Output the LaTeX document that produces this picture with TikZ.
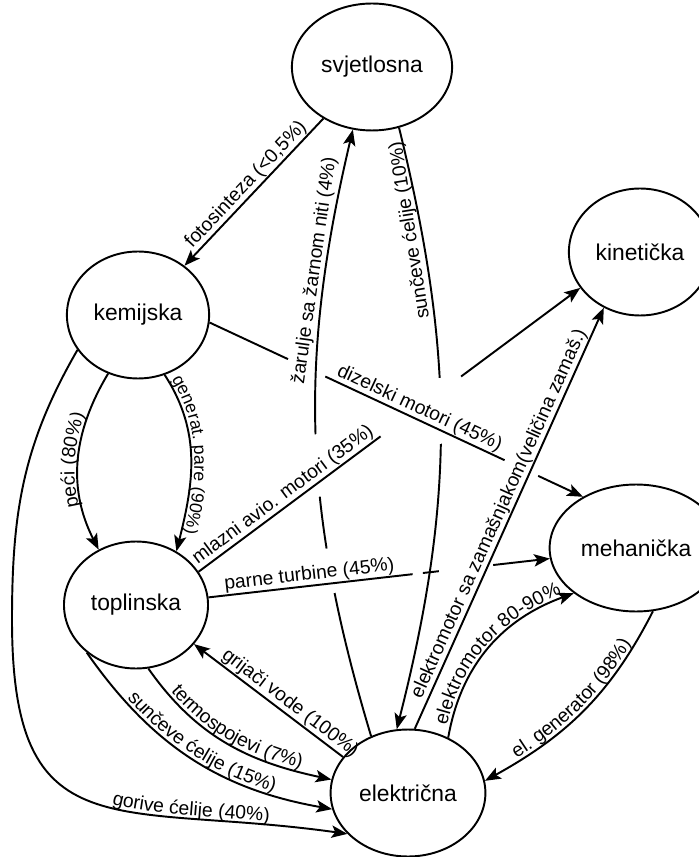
\documentclass[tikz,border=0pt]{standalone}
\usepackage{fontspec}
\setmainfont{Liberation Sans}
\usetikzlibrary{arrows.meta,shapes.geometric,decorations.text}
\newcommand{\etxt}{\fontsize{11}{13}\selectfont}
\newcommand{\vtxt}{\fontsize{13}{15}\selectfont}
\newcommand{\stxt}{\fontsize{10}{12}\selectfont}

\begin{document}
\begin{tikzpicture}[x=0.02cm,y=0.02cm,line width=1.1pt,
    >={Stealth[length=9pt,width=7pt,inset=2pt]},
    oblik/.style={draw,ellipse,minimum width=2.72cm,minimum height=2.54cm,font=\vtxt},
    lab/.style={font=\etxt,inner sep=0.5pt},
    maska/.style={white,line width=4pt},
    tekst/.style={postaction={decorate},
        decoration={text along path,text={|\etxt|#1},text align=center,raise=2pt}}]
    \useasboundingbox (0,0) rectangle (698,-857);

    \node[oblik] (svj) at (372,-67) {svjetlosna};
    \node[oblik] (kem) at (138,-315) {kemijska};
    \node[oblik] (topl) at (136,-605) {toplinska};
    \node[oblik] (kin) at (640,-252) {kinetička};
    \node[oblik] (meh) at (636,-548) {mehanička};
    \node[oblik] (el) at (408,-793) {električna};

    \draw[->] (svj) -- node[lab,sloped,above]{fotosinteza (<0,5\%)} (kem);
    \draw[->] (el.123) to[bend left=15] node[lab,sloped,above,pos=.78]{žarulje sa žarnom niti (4\%)} (svj.253);
    \draw[->] (svj.294) to[bend left=14] node[lab,rotate=99,anchor=south,pos=.155]{sunčeve ćelije (10\%)} (el.100);

    \path (el.123) to[bend left=15] coordinate[pos=.225] (b1) coordinate[pos=.30] (b2)
        coordinate[pos=.39] (b3) coordinate[pos=.50] (b4) (svj.253);
    \path (svj.294) to[bend left=14] coordinate[pos=.41] (c1) coordinate[pos=.527] (c2) (el.100);
    \draw[maska] (b1) -- (b2) (b3) -- (b4) (c1) -- (c2);

    \path (kem.-6) -- (meh.136) coordinate[pos=.21] (d1) coordinate[pos=.31] (d2)
        coordinate[pos=.79] (d3) coordinate[pos=.88] (d4);
    \draw (kem.-6) -- (d1);
    \draw (d2) -- node[lab,sloped,above]{dizelski motori (45\%)} (d3);
    \draw[->] (d4) -- (meh.136);

    \path (topl.28) -- (kin.211) coordinate[pos=.477] (e1) coordinate[pos=.688] (e2);
    \draw (topl.28) -- node[lab,sloped,above]{mlazni avio. motori (35\%)} (e1);
    \draw[->] (e2) -- (kin.211);

    \path (topl.6) -- (meh.187) coordinate[pos=.598] (f1) coordinate[pos=.628] (f2)
        coordinate[pos=.675] (f3) coordinate[pos=.834] (f4);
    \draw (topl.6) -- node[lab,sloped,above]{parne turbine (45\%)} (f1);
    \draw (f2) -- (f3);
    \draw[->] (f4) -- (meh.187);

    \draw[->] (el.84) -- node[lab,sloped,above]{elektromotor sa zamašnjakom(veličina zamaš.)} (kin.237);
    \draw[->,tekst={elektromotor 80-90{\%}}] (el.54) to[out=80,in=200] (meh.216);
    \draw[<-,tekst={el. generator (98{\%})}] (el.9) to[out=29,in=243] (meh.285);
    \draw[->] (el.151) -- node[lab,sloped,above,pos=.4]{grijači vode (100\%)} (topl.-34);

    \draw[->,tekst={termospojevi (7{\%})}] (topl.281) to[out=-55,in=168] (el.170);
    \draw[->,tekst={sunčeve ćelije (15{\%})}] (topl.224) to[out=-55,in=170] (el.192);
    \coordinate (gor) at (12,-620);
    \draw[->,tekst={gorive ćelije (40{\%})},decoration={text align={right,right indent=45pt}}]
        (kem.210) to[out=240,in=90] (gor) to[out=-90,in=172,looseness=1.5] (el.214);

    \draw[<-,tekst={peći (80{\%})}] (topl.124) to[out=117,in=239] (kem.243);
    \draw[->,tekst={generat. pare (90{\%})},
        decoration={text={|\stxt|generat. pare (90{\%})},text align={left,left indent=4pt}}]
        (kem.-66) to[out=-57,in=76] (topl.53);
\end{tikzpicture}
\end{document}
